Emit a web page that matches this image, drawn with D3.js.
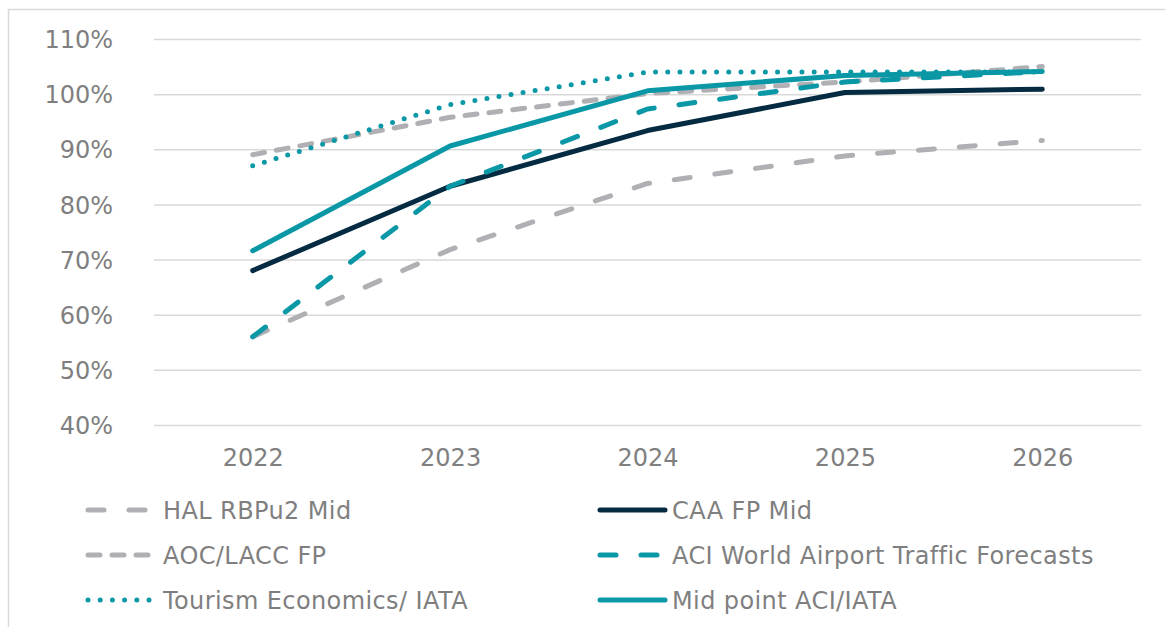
<!DOCTYPE html>
<html>
<head>
<meta charset="utf-8">
<script src="https://cdn.jsdelivr.net/npm/d3@7"></script>
<style>
  html, body { margin: 0; padding: 0; background: #ffffff; }
  svg { display: block; }
  text { font-family: "DejaVu Sans", Verdana, sans-serif; fill: #7f7f7f; }
</style>
</head>
<body>
<svg id="chart" width="1165" height="627"></svg>
<script>
// Passenger traffic forecasts as a share of 2019 levels (%)
const years = ["2022", "2023", "2024", "2025", "2026"];
const yTicks = [40, 50, 60, 70, 80, 90, 100, 110];

const halRbpu2Mid   = [56.0, 71.8, 83.8, 88.8, 91.6];
const caaFpMid      = [68.0, 83.3, 93.4, 100.3, 100.9];
const aocLaccFp     = [89.0, 95.8, 100.1, 102.2, 105.0];
const aciWorld      = [56.0, 83.3, 97.3, 102.2, 104.1];
const tourismIata   = [87.0, 98.1, 104.0, 104.0, 104.0];
const midPointAciIata = [71.6, 90.6, 100.6, 103.4, 104.1];

const seriesNames = [
  "HAL RBPu2 Mid", "CAA FP Mid", "AOC/LACC FP",
  "ACI World Airport Traffic Forecasts", "Tourism Economics/ IATA", "Mid point ACI/IATA"
];

const GREY = "#b0b0b4", NAVY = "#052b42", TEAL = "#0a97a6";

const series = [
  { name: seriesNames[0], values: halRbpu2Mid,     color: GREY, dash: "16,25" },
  { name: seriesNames[1], values: caaFpMid,        color: NAVY, dash: null },
  { name: seriesNames[2], values: aocLaccFp,       color: GREY, dash: "12,12" },
  { name: seriesNames[3], values: aciWorld,        color: TEAL, dash: "16,25" },
  { name: seriesNames[4], values: tourismIata,     color: TEAL, dash: "0,12.2" },
  { name: seriesNames[5], values: midPointAciIata, color: TEAL, dash: null }
];

const svg = d3.select("#chart");

// outer frame
svg.append("rect")
  .attr("x", 8.5).attr("y", 9.5)
  .attr("width", 1180).attr("height", 640)
  .attr("fill", "none").attr("stroke", "#d9d9d9").attr("stroke-width", 1.5);

const plot = { left: 154, right: 1141, top: 39, bottom: 425 };

const x = d3.scalePoint().domain(years).range([plot.left, plot.right]).padding(0.5);
const y = d3.scaleLinear().domain([40, 110]).range([plot.bottom, plot.top]);

// horizontal gridlines
svg.append("g")
  .attr("transform", `translate(${plot.left},0)`)
  .call(d3.axisLeft(y).tickValues(yTicks).tickSize(-(plot.right - plot.left)).tickFormat(""))
  .call(g => g.select(".domain").remove())
  .call(g => g.selectAll("line").attr("stroke", "#d9d9d9").attr("stroke-width", 1.5));

// y labels
svg.append("g")
  .attr("transform", `translate(113,0)`)
  .call(d3.axisLeft(y).tickValues(yTicks).tickSize(0).tickPadding(0).tickFormat(d => d + "%"))
  .call(g => g.select(".domain").remove())
  .call(g => g.selectAll("text")
    .style("font-family", '"DejaVu Sans", Verdana, sans-serif')
    .style("font-size", "24px").attr("fill", "#7f7f7f").attr("dy", "0.36em"));

// x labels
svg.append("g")
  .attr("transform", `translate(0,${plot.bottom})`)
  .call(d3.axisBottom(x).tickSize(0).tickPadding(0))
  .call(g => g.select(".domain").remove())
  .call(g => g.selectAll("text")
    .style("font-family", '"DejaVu Sans", Verdana, sans-serif')
    .style("font-size", "24px").attr("fill", "#7f7f7f")
    .attr("dy", "0").attr("y", 41));

// series lines
const line = d3.line()
  .x((d, i) => x(years[i]))
  .y(d => y(d));

svg.append("g").selectAll("path")
  .data(series)
  .join("path")
  .attr("d", d => line(d.values))
  .attr("fill", "none")
  .attr("stroke", d => d.color)
  .attr("stroke-width", 5)
  .attr("stroke-linecap", "round")
  .attr("stroke-linejoin", "round")
  .attr("stroke-dasharray", d => d.dash);

// legend: two columns, three rows
const legendCols = [{ x0: 88, x1: 149, tx: 163 }, { x0: 600, x1: 665, tx: 672 }];
const legendRows = [510, 555, 600];

const legend = svg.append("g").selectAll("g")
  .data(series)
  .join("g")
  .attr("transform", (d, i) => `translate(0,${legendRows[Math.floor(i / 2)]})`);

legend.append("line")
  .attr("x1", (d, i) => legendCols[i % 2].x0)
  .attr("x2", (d, i) => legendCols[i % 2].x1)
  .attr("y1", 0).attr("y2", 0)
  .attr("stroke", d => d.color)
  .attr("stroke-width", 5)
  .attr("stroke-linecap", "round")
  .attr("stroke-dasharray", d => d.dash);

legend.append("text")
  .attr("x", (d, i) => legendCols[i % 2].tx)
  .attr("y", 0)
  .attr("dy", "0.36em")
  .style("font-size", "24px")
  .style("letter-spacing", "0.4px")
  .text(d => d.name);
</script>
</body>
</html>
